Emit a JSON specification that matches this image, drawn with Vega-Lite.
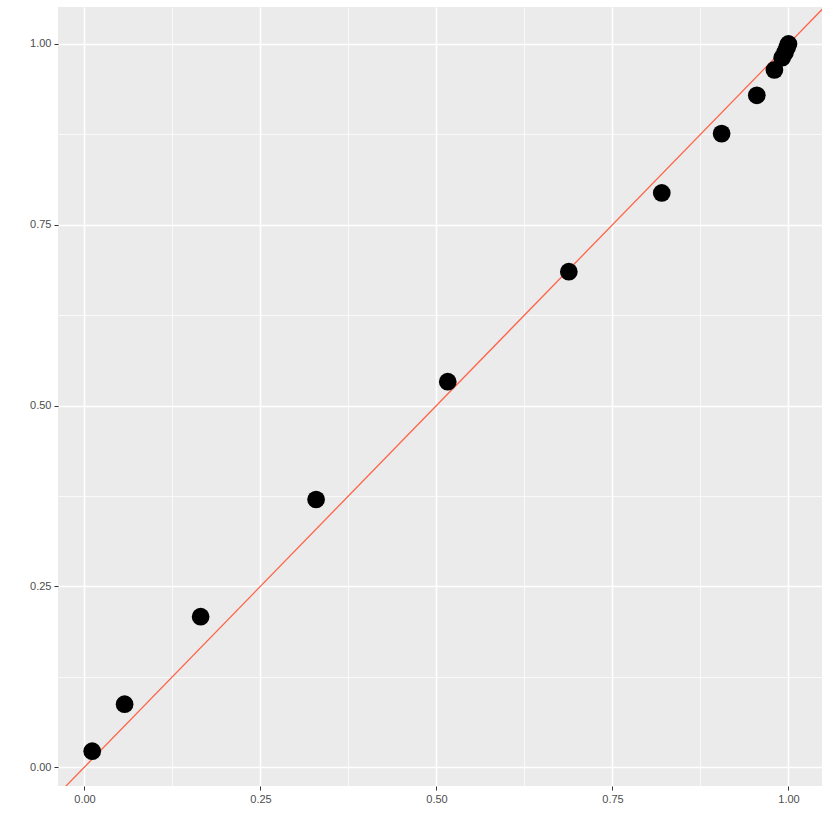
{
  "$schema": "https://vega.github.io/schema/vega-lite/v6.json",
  "autosize": "none",
  "width": 764,
  "height": 779,
  "padding": {"left": 58, "top": 7, "right": 8, "bottom": 44},
  "background": "white",
  "config": {
    "view": {"fill": "#EBEBEB", "stroke": null},
    "axis": {
      "domain": false,
      "labelFont": "Liberation Sans",
      "labelFontSize": 11,
      "labelColor": "#4D4D4D",
      "tickColor": {"condition": {"test": "datum.value * 4 % 1 != 0", "value": "transparent"}, "value": "#333333"},
      "tickSize": 4,
      "tickWidth": 1,
      "gridColor": "#FFFFFF",
      "gridWidth": {"condition": {"test": "datum.value * 4 % 1 != 0", "value": 0.7}, "value": 1.6},
      "gridOpacity": 1,
      "labelPadding": 3,
      "title": null
    }
  },
  "datasets": {
    "pts": [
      {"x": 0.011, "y": 0.022},
      {"x": 0.057, "y": 0.087},
      {"x": 0.165, "y": 0.208},
      {"x": 0.329, "y": 0.370},
      {"x": 0.516, "y": 0.533},
      {"x": 0.688, "y": 0.685},
      {"x": 0.820, "y": 0.794},
      {"x": 0.905, "y": 0.876},
      {"x": 0.955, "y": 0.929},
      {"x": 0.980, "y": 0.964},
      {"x": 0.991, "y": 0.981},
      {"x": 0.995, "y": 0.988},
      {"x": 0.998, "y": 0.995},
      {"x": 1.000, "y": 1.000}
    ],
    "line": [
      {"x": -0.1, "y": -0.1},
      {"x": 1.1, "y": 1.1}
    ]
  },
  "layer": [
    {
      "data": {"name": "line"},
      "mark": {"type": "line", "color": "#FF6347", "strokeWidth": 1.3, "clip": true},
      "encoding": {
        "x": {"field": "x", "type": "quantitative", "scale": {"domain": [-0.0376, 1.0476], "nice": false, "zero": false},
          "axis": {"values": [0, 0.125, 0.25, 0.375, 0.5, 0.625, 0.75, 0.875, 1], "labelExpr": "datum.value * 4 % 1 != 0 ? '' : format(datum.value, '.2f')"}},
        "y": {"field": "y", "type": "quantitative", "scale": {"domain": [-0.0262, 1.0511], "nice": false, "zero": false},
          "axis": {"values": [0, 0.125, 0.25, 0.375, 0.5, 0.625, 0.75, 0.875, 1], "labelExpr": "datum.value * 4 % 1 != 0 ? '' : format(datum.value, '.2f')"}}
      }
    },
    {
      "data": {"name": "pts"},
      "mark": {"type": "circle", "color": "#000000", "opacity": 1, "size": 314},
      "encoding": {
        "x": {"field": "x", "type": "quantitative"},
        "y": {"field": "y", "type": "quantitative"}
      }
    }
  ]
}
